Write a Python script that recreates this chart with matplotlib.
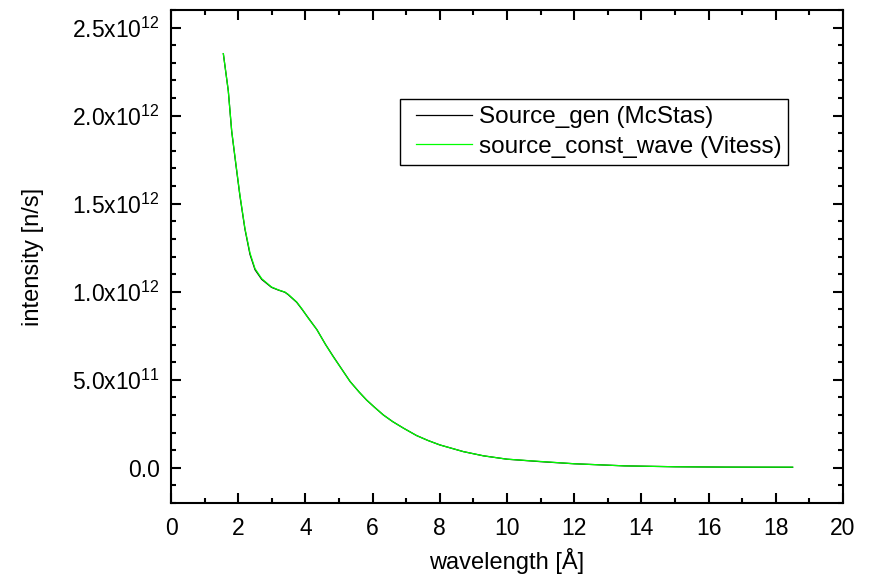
import matplotlib
matplotlib.use('Agg')
import matplotlib.pyplot as plt
from matplotlib.ticker import MultipleLocator, FuncFormatter
from matplotlib.legend_handler import HandlerLine2D

plt.rcParams['font.family'] = ['Liberation Sans', 'DejaVu Sans']
plt.rcParams['mathtext.fontset'] = 'custom'
plt.rcParams['mathtext.rm'] = 'Liberation Sans'
plt.rcParams['mathtext.default'] = 'rm'

# wavelength [A] and intensity [n/s]
wl_mcstas = [1.557, 1.705, 1.806, 1.935, 2.05, 2.2, 2.35, 2.5, 2.7, 2.99, 3.2, 3.39, 3.49,
             3.6, 3.74, 3.9, 4.09, 4.34, 4.6, 4.83, 5.1, 5.33, 5.6, 5.82, 6.05, 6.32, 6.6,
             6.92, 7.31, 7.65, 8.0, 8.7, 9.3, 10.0, 11.0, 12.0, 13.5, 15.0, 16.5, 18.5]
int_mcstas = [2.352e12, 2.14e12, 1.91e12, 1.715e12, 1.545e12, 1.355e12, 1.212e12, 1.125e12,
              1.07e12, 1.025e12, 1.009e12, 0.997e12, 0.983e12, 0.964e12, 0.94e12, 0.9e12,
              0.85e12, 0.785e12, 0.70e12, 0.632e12, 0.555e12, 0.49e12, 0.43e12, 0.385e12,
              0.345e12, 0.30e12, 0.262e12, 0.225e12, 0.183e12, 0.155e12, 0.13e12, 0.092e12,
              0.068e12, 0.049e12, 0.035e12, 0.023e12, 0.011e12, 0.006e12, 0.004e12, 0.003e12]

wl_vitess = [1.557, 1.705, 1.806, 1.935, 2.05, 2.2, 2.35, 2.5, 2.7, 2.99, 3.2, 3.39, 3.49,
             3.6, 3.74, 3.9, 4.09, 4.34, 4.6, 4.83, 5.1, 5.33, 5.6, 5.82, 6.05, 6.32, 6.6,
             6.92, 7.31, 7.65, 8.0, 8.7, 9.3, 10.0, 11.0, 12.0, 13.5, 15.0, 16.5, 18.5]
int_vitess = [2.352e12, 2.14e12, 1.914e12, 1.72e12, 1.55e12, 1.36e12, 1.22e12, 1.131e12,
              1.074e12, 1.027e12, 1.01e12, 0.998e12, 0.985e12, 0.966e12, 0.942e12, 0.902e12,
              0.848e12, 0.785e12, 0.70e12, 0.63e12, 0.555e12, 0.49e12, 0.43e12, 0.385e12,
              0.345e12, 0.30e12, 0.262e12, 0.225e12, 0.183e12, 0.155e12, 0.13e12, 0.092e12,
              0.068e12, 0.049e12, 0.036e12, 0.023e12, 0.011e12, 0.006e12, 0.004e12, 0.004e12]


class PadHandler(HandlerLine2D):
    # legend line starts a bit further in from the frame
    def get_xdata(self, legend, xdescent, ydescent, width, height, fontsize):
        xd, xm = super().get_xdata(legend, xdescent, ydescent, width, height, fontsize)
        return [xd[0] + 6.6, xd[-1]], xm


fig = plt.figure(figsize=(8.69, 5.77), dpi=100)
ax = fig.add_axes([0.1968, 0.1282, 0.7733, 0.8545])

l1, = ax.plot(wl_mcstas, int_mcstas, color='black', linewidth=0.9, label='Source_gen (McStas)')
l2, = ax.plot(wl_vitess, int_vitess, color='#00ff00', linewidth=0.9, label='source_const_wave (Vitess)')

ax.set_xlim(0, 20)
ax.set_ylim(-0.2e12, 2.6e12)

ax.xaxis.set_major_locator(MultipleLocator(2))
ax.xaxis.set_minor_locator(MultipleLocator(1))
ax.yaxis.set_major_locator(MultipleLocator(0.5e12))
ax.yaxis.set_minor_locator(MultipleLocator(0.1e12))


def yfmt(v, pos):
    if abs(v) < 1e6:
        return '0.0'
    if v < 1e12:
        return r'$%.1f\mathrm{x}10^{11}$' % (v / 1e11)
    return r'$%.1f\mathrm{x}10^{12}$' % (v / 1e12)


ax.yaxis.set_major_formatter(FuncFormatter(yfmt))

for s in ax.spines.values():
    s.set_linewidth(1.5)

ax.tick_params(which='both', direction='in', top=True, right=True, width=1.5, labelsize=16.5)
ax.tick_params(which='major', length=7)
ax.tick_params(which='minor', length=3.6)
ax.tick_params(axis='x', pad=10)
ax.tick_params(axis='y', pad=8)

ax.set_xlabel('wavelength [Å]', fontsize=17)
ax.set_ylabel('intensity [n/s]', fontsize=17)
ax.xaxis.set_label_coords(0.5, -0.0913)
ax.yaxis.set_label_coords(-0.189, 0.5)

hm = PadHandler()
leg = ax.legend(handles=[l1, l2], loc='upper left', bbox_to_anchor=(0.3408, 0.8195),
                fontsize=17.5, handlelength=2.65, handletextpad=0.28, labelspacing=0.3,
                borderpad=0.3, borderaxespad=0, fancybox=False, frameon=True,
                handler_map={l1: hm, l2: hm})
leg.get_frame().set_edgecolor('black')
leg.get_frame().set_linewidth(1.0)
leg.get_frame().set_alpha(1)

fig.savefig('out.png', dpi=100)
